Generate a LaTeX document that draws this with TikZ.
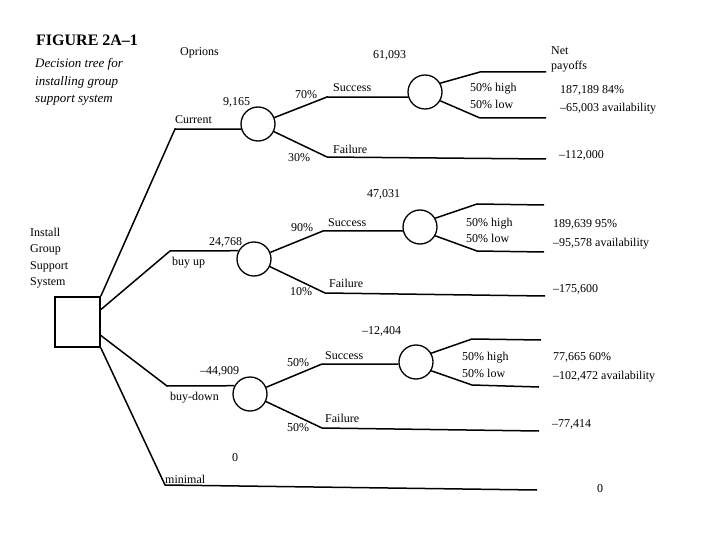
\documentclass[tikz,border=0pt]{standalone}
\usepackage{fontspec}
\setmainfont{Liberation Serif}
\usetikzlibrary{positioning}
\tikzset{
  branch line/.style={draw=black,line width=1.5pt,line join=miter},
  chance node/.style={circle,draw=black,line width=1.3pt,minimum size=34pt,
    inner sep=0pt},
  decision node/.style={rectangle,draw=black,line width=1.6pt,minimum width=45pt,
    minimum height=50pt,inner sep=0pt},
  tree label/.style={font=\fontsize{12}{14}\selectfont,inner sep=0pt,
    anchor=base west},
  caption text/.style={font=\fontsize{13}{17.7}\selectfont\itshape,inner sep=0pt,
    anchor=north west,align=left}
}

\begin{document}
\begin{tikzpicture}[x=1pt,y=-1pt]
    \useasboundingbox (0,0) rectangle (720,540);
    \node[inner sep=0pt,anchor=base west,font=\fontsize{16}{18}\selectfont\bfseries]
      (title) at (36,46) {FIGURE 2A--1};
    \node[caption text] (caption) at (35,58)
      {Decision tree for\\installing group\\support system};
    \node[tree label] (options) at (180,56) {Oprions};
    \node[tree label] (net) at (551,55) {Net};
    \node[tree label] (payoffs) at (551,70) {payoffs};
    \node[tree label,anchor=north west,align=left,
      font=\fontsize{12}{16.3}\selectfont] (install) at (30,228)
      {Install\\Group\\Support\\System};
    \node[decision node] (sq) at (77.5,322) {};
    \node[chance node] (cCur) at (258,124) {};
    \node[chance node] (cCurS) at (425,92) {};
    \node[chance node] (cUp) at (254,259) {};
    \node[chance node] (cUpS) at (420,227) {};
    \node[chance node] (cDn) at (250,394) {};
    \node[chance node] (cDnS) at (416,362) {};
    \coordinate (kCur) at (175,129);
    \coordinate (kCurS) at (327,97);
    \coordinate (kCurF) at (327,157);
    \coordinate (eCurF) at (546,159);
    \coordinate (kCurH) at (480,72);
    \coordinate (eCurH) at (546,72);
    \coordinate (kCurL) at (480,118);
    \coordinate (eCurL) at (546,118);
    \coordinate (kUp) at (170,251);
    \coordinate (kUpS) at (323,231);
    \coordinate (kUpF) at (325,293);
    \coordinate (eUpF) at (545,296);
    \coordinate (kUpH) at (477,204);
    \coordinate (eUpH) at (544,205);
    \coordinate (kUpL) at (477,251);
    \coordinate (eUpL) at (544,252);
    \coordinate (kDn) at (167,386);
    \coordinate (kDnS) at (322,364);
    \coordinate (kDnF) at (322,428);
    \coordinate (eDnF) at (539,431);
    \coordinate (kDnH) at (472,339);
    \coordinate (eDnH) at (541,340);
    \coordinate (kDnL) at (472,385);
    \coordinate (eDnL) at (539,387);
    \coordinate (kMin) at (165,485);
    \coordinate (eMin) at (537,490);
    \draw[branch line] (sq.north east) -- (kCur) -- (cCur.197);
    \draw[branch line] (cCur) -- (kCurS) -- (cCurS.197);
    \draw[branch line] (cCur) -- (kCurF) -- (eCurF);
    \draw[branch line] (cCurS.30) -- (kCurH) -- (eCurH);
    \draw[branch line] (cCurS.-30) -- (kCurL) -- (eCurL);
    \draw[branch line] (sq.28) -- (kUp) -- (cUp.152);
    \draw[branch line] (cUp) -- (kUpS) -- (cUpS.193);
    \draw[branch line] (cUp) -- (kUpF) -- (eUpF);
    \draw[branch line] (cUpS.30) -- (kUpH) -- (eUpH);
    \draw[branch line] (cUpS.-30) -- (kUpL) -- (eUpL);
    \draw[branch line] (sq.-30) -- (kDn) -- (cDn.152);
    \draw[branch line] (cDn) -- (kDnS) -- (cDnS.187);
    \draw[branch line] (cDn) -- (kDnF) -- (eDnF);
    \draw[branch line] (cDnS.30) -- (kDnH) -- (eDnH);
    \draw[branch line] (cDnS.-30) -- (kDnL) -- (eDnL);
    \draw[branch line] (sq.south east) -- (kMin) -- (eMin);
    % current option
    \node[tree label] (current) at (175,124) {Current};
    \node[tree label] (vCur) at (223,106) {9,165};
    \node[tree label] (pCurS) at (295,99) {70\%};
    \node[tree label] (sCur) at (333,92) {Success};
    \node[tree label] (vCurS) at (373,59) {61,093};
    \node[tree label] (pCurF) at (288,162) {30\%};
    \node[tree label] (fCur) at (333,154) {Failure};
    \node[tree label] (hCur) at (470,92) {50\% high};
    \node[tree label] (lCur) at (470,109) {50\% low};
    \node[tree label] (payCurH) at (560,94) {187,189 84\%};
    \node[tree label] (payCurL) at (560,112) {--65,003 availability};
    \node[tree label] (payCurF) at (559,159) {--112,000};
    % buy up option
    \node[tree label] (buyup) at (172,265) {buy up};
    \node[tree label] (vUp) at (209,245) {24,768};
    \node[tree label] (pUpS) at (291,232) {90\%};
    \node[tree label] (sUp) at (328,226) {Success};
    \node[tree label] (vUpS) at (367,197) {47,031};
    \node[tree label] (pUpF) at (290,295) {10\%};
    \node[tree label] (fUp) at (329,287) {Failure};
    \node[tree label] (hUp) at (466,226) {50\% high};
    \node[tree label] (lUp) at (466,242) {50\% low};
    \node[tree label] (payUpH) at (553,227) {189,639 95\%};
    \node[tree label] (payUpL) at (553,246) {--95,578 availability};
    \node[tree label] (payUpF) at (553,292) {--175,600};
    % buy-down option
    \node[tree label] (buydown) at (170,400) {buy-down};
    \node[tree label] (vDn) at (200,374) {--44,909};
    \node[tree label] (pDnS) at (287,366) {50\%};
    \node[tree label] (sDn) at (325,359) {Success};
    \node[tree label] (vDnS) at (362,334) {--12,404};
    \node[tree label] (pDnF) at (287,431) {50\%};
    \node[tree label] (fDn) at (325,422) {Failure};
    \node[tree label] (hDn) at (462,360) {50\% high};
    \node[tree label] (lDn) at (462,377) {50\% low};
    \node[tree label] (payDnH) at (553,360) {77,665 60\%};
    \node[tree label] (payDnL) at (553,379) {--102,472 availability};
    \node[tree label] (payDnF) at (552,427) {--77,414};
    % minimal option
    \node[tree label] (minimal) at (165,483) {minimal};
    \node[tree label] (vMin) at (232,461) {0};
    \node[tree label] (payMin) at (597,492) {0};
  \end{tikzpicture}
\end{document}
